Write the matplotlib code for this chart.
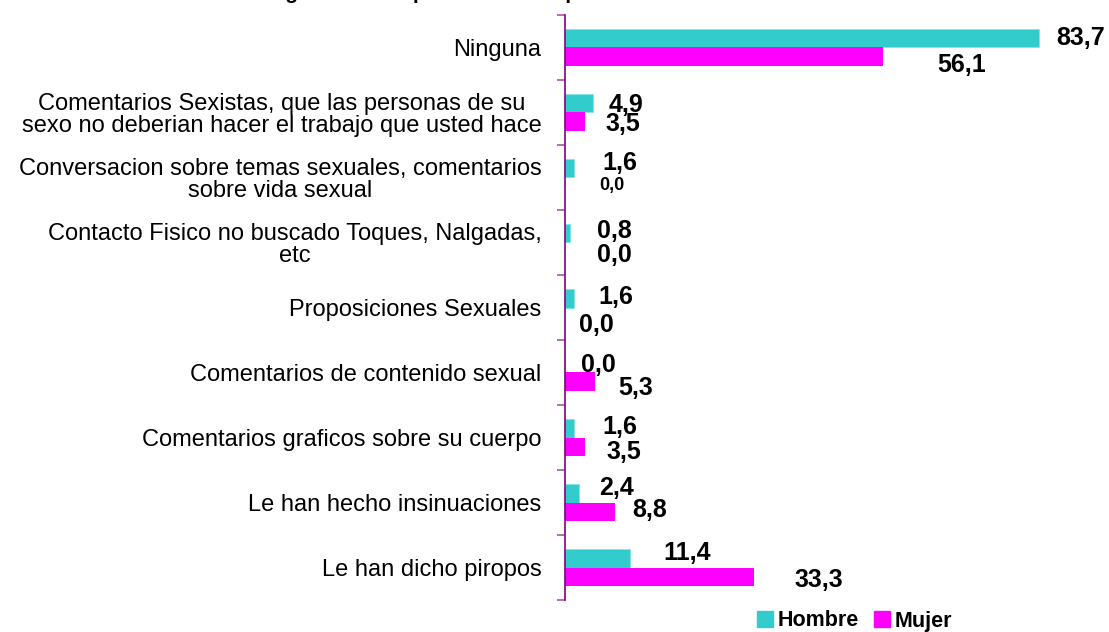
import matplotlib.pyplot as plt
import numpy as np
from matplotlib.patches import Patch

plt.rcParams['font.family'] = ['Liberation Sans', 'DejaVu Sans']

categorias = [
    'Ninguna',
    'Comentarios Sexistas, que las personas de su\nsexo no deberian hacer el trabajo que usted hace',
    'Conversacion sobre temas sexuales, comentarios\nsobre vida sexual',
    'Contacto Fisico no buscado Toques, Nalgadas,\netc',
    'Proposiciones Sexuales',
    'Comentarios de contenido sexual',
    'Comentarios graficos sobre su cuerpo',
    'Le han hecho insinuaciones',
    'Le han dicho piropos',
]
hombre = [83.7, 4.9, 1.6, 0.8, 1.6, 0.0, 1.6, 2.4, 11.4]
mujer = [56.1, 3.5, 0.0, 0.0, 0.0, 5.3, 3.5, 8.8, 33.3]
series = ['Hombre', 'Mujer']

# hand placed data labels (pixel nudges, like the original)
h_dx = [17, 16, 28, 27, 24, 16, 28, 21, 34]
h_dy = [0, 2, -5, -2, -1, 2, -1, -5, -5]
m_dx = [55, 21, 34, 32, 14, 23, 22, 17, 41]
m_dy = [8, 2, -1, 3, 8, 6, 5, -2, 3]
m_size = [18, 18, 13, 18, 18, 18, 18, 18, 18]

c_h = '#33CCCC'
c_m = '#FF00FF'

W, H = 1109, 632
fig = plt.figure(figsize=(W / 100, H / 100), dpi=100)
ax = fig.add_axes([565 / W, 1 - 600 / H, (1103 - 565) / W, 585 / H])

y = np.arange(len(categorias))
bh = 0.292
ax.barh(y - bh / 2, hombre, height=bh, color=c_h, edgecolor='#7FE5E5', linewidth=0.6)
ax.barh(y + bh / 2, mujer, height=bh, color=c_m, linewidth=0)

ax.set_xlim(0, 95)
ax.set_ylim(len(categorias) - 0.5, -0.5)

for i in range(len(categorias)):
    lab = f'{hombre[i]:.1f}'.replace('.', ',')
    ax.annotate(lab, (hombre[i], y[i] - bh / 2), xytext=(h_dx[i], -h_dy[i]),
                textcoords='offset pixels', ha='left', va='center',
                fontsize=18, fontweight='bold', annotation_clip=False)
    lab = f'{mujer[i]:.1f}'.replace('.', ',')
    ax.annotate(lab, (mujer[i], y[i] + bh / 2), xytext=(m_dx[i], -m_dy[i]),
                textcoords='offset pixels', ha='left', va='center',
                fontsize=m_size[i], fontweight='bold', annotation_clip=False)

for s in ['top', 'right', 'bottom']:
    ax.spines[s].set_visible(False)
ax.spines['left'].set_color('#800080')
ax.spines['left'].set_linewidth(1.2)

ax.set_xticks([])
ax.set_yticks(y)
ax.set_yticklabels(categorias, fontsize=17, multialignment='center', linespacing=1.0)
ax.tick_params(axis='y', which='major', length=0, pad=17)
ax.set_yticks(np.arange(len(categorias) + 1) - 0.5, minor=True)
ax.tick_params(axis='y', which='minor', length=6, color='#B050B0', width=1.2)

handles = [Patch(color=c_h), Patch(color=c_m)]
fig.legend(handles, series, loc='center left', bbox_to_anchor=(757 / W, 1 - 621 / H),
           ncol=2, frameon=False, prop={'weight': 'bold', 'size': 15.5},
           handlelength=0.75, handleheight=0.75, handletextpad=0.2,
           columnspacing=0.7, borderpad=0, borderaxespad=0)

# title sits mostly above the visible canvas, as in the source image
fig.text(121 / W, 1 + 1.5 / H, 'Acoso sexual según sexo en personas de la planta',
         ha='left', va='baseline', fontsize=15, fontweight='bold')

fig.savefig('out.png', dpi=100)
